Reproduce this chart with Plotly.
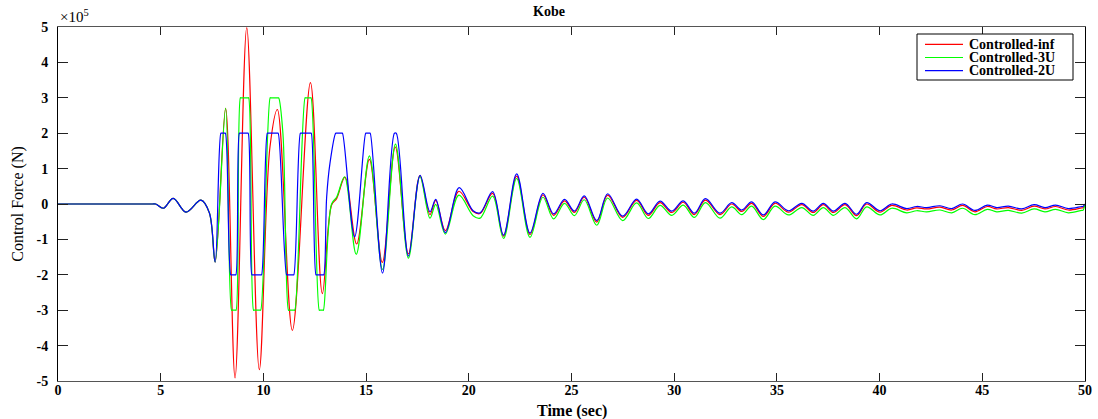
import plotly.graph_objects as go

# ---- data (values in units of 1e5 N) ----
t_inf = [0, 4.6, 4.75, 5.13, 5.61, 6.23, 6.96, 7.37, 7.65, 8.16, 8.62, 9.19, 9.80, 10.32, 10.68,
         11.41, 12.29, 12.87, 13.32, 13.57, 13.97, 14.54, 15.16, 15.79, 16.42, 17.06, 17.62,
         18.11, 18.39, 18.86, 19.52, 20.21, 20.55, 21.16, 21.69, 22.33, 22.98, 23.61, 24.13,
         24.66, 25.14, 25.62, 26.23, 26.76, 27.49, 28.17, 28.74, 29.31, 29.88, 30.44, 30.98,
         31.52, 32.23, 32.80, 33.29, 33.77, 34.34, 34.91, 35.56, 36.21, 36.77, 37.26, 37.75,
         38.32, 38.88, 39.37, 40.02, 40.59, 41.32, 41.80, 42.29, 42.94, 43.51, 44.04, 44.64,
         45.24, 45.70, 46.27, 46.92, 47.52, 48.05, 48.57, 49.19, 49.84, 49.90, 50.0]
f_inf = [0, 0, 0, -0.12, 0.16, -0.23, 0.11, -0.25, -1.64, 2.70, -4.91, 4.98, -4.68, 1.61, 2.67,
         -3.57, 3.43, -2.53, -0.03, 0.16, 0.76, -1.13, 1.26, -1.65, 1.61, -1.41, 0.80,
         -0.30, 0.10, -0.75, 0.36, -0.21, -0.27, 0.30, -0.91, 0.79, -0.86, 0.26, -0.32,
         0.09, -0.24, 0.19, -0.51, 0.25, -0.38, 0.10, -0.32, 0.04, -0.24, 0.05, -0.30,
         0.11, -0.30, 0.00, -0.21, 0.02, -0.35, 0.02, -0.23, -0.02, -0.24, -0.02, -0.24,
         -0.02, -0.33, 0.00, -0.23, -0.04, -0.17, -0.11, -0.14, -0.09, -0.17, -0.04, -0.22,
         -0.07, -0.14, -0.10, -0.18, -0.06, -0.14, -0.07, -0.17, -0.11, -0.11, 0.0]

t_3u = [0, 4.6, 4.75, 5.13, 5.61, 6.23, 6.96, 7.37, 7.65, 8.16,
        8.45, 8.48, 8.64, 8.67, 8.88, 8.91, 9.25, 9.28, 9.52, 9.55, 9.84, 9.87,
        10.33, 10.36, 10.71, 10.74, 10.95, 11.22, 11.25, 11.50, 11.53,
        12.03, 12.06, 12.29, 12.32, 12.72, 12.75, 12.89, 12.92,
        13.32, 13.57, 13.95,
        14.52, 15.16, 15.80, 16.43, 17.06, 17.62, 18.11, 18.39, 18.86, 19.52, 20.21, 20.55,
        21.16, 21.69, 22.33, 22.98, 23.61, 24.13, 24.66, 25.14, 25.62, 26.23, 26.76, 27.49,
        28.17, 28.74, 29.31, 29.88, 30.44, 30.98, 31.52, 32.23, 32.80, 33.29, 33.77, 34.34,
        34.91, 35.56, 36.21, 36.77, 37.26, 37.75, 38.32, 38.88, 39.37, 40.02, 40.59, 41.32,
        41.80, 42.29, 42.94, 43.51, 44.04, 44.64, 45.24, 45.70, 46.27, 46.92, 47.52, 48.05,
        48.57, 49.19, 49.84, 49.90, 50.0]
f_3u = [0, 0, 0, -0.12, 0.16, -0.23, 0.11, -0.25, -1.64, 2.70,
        -3.0, -3.0, -3.0, -3.0, 3.0, 3.0, 3.0, 3.0, -3.0, -3.0, -3.0, -3.0,
        3.0, 3.0, 3.0, 3.0, 2.0, -3.0, -3.0, -3.0, -3.0,
        3.0, 3.0, 3.0, 3.0, -3.0, -3.0, -3.0, -3.0,
        0.00, 0.20, 0.77,
        -1.42, 1.36, -1.85, 1.69, -1.53, 0.78, -0.40, -0.01, -0.85, 0.25, -0.33, -0.40,
        0.22, -0.97, 0.72, -0.94, 0.19, -0.42, 0.02, -0.33, 0.12, -0.60, 0.17, -0.47,
        0.03, -0.41, -0.04, -0.32, -0.03, -0.38, 0.04, -0.40, -0.08, -0.30, -0.06, -0.44,
        -0.06, -0.31, -0.10, -0.32, -0.10, -0.32, -0.10, -0.42, -0.08, -0.31, -0.12, -0.25,
        -0.19, -0.22, -0.17, -0.25, -0.12, -0.30, -0.15, -0.22, -0.18, -0.26, -0.14, -0.22,
        -0.15, -0.25, -0.18, -0.18, 0.0]

t_2u = [0, 4.6, 4.75, 5.13, 5.61, 6.23, 6.96, 7.37, 7.65,
        7.93, 7.96, 8.12, 8.15, 8.41, 8.44, 8.63, 8.66, 8.83, 8.86, 9.23, 9.26,
        9.44, 9.47, 9.88, 9.91, 10.19, 10.22, 10.69, 10.72, 11.13, 11.16, 11.45, 11.48,
        11.80, 11.83, 12.30, 12.33, 12.56, 12.59, 12.91, 12.94,
        13.08, 13.24, 13.52, 13.55, 13.82, 13.85, 14.44, 14.98, 15.01, 15.17, 15.20,
        15.80, 16.38, 16.47, 17.06, 17.63, 18.11, 18.39, 18.86,
        19.53, 20.21, 20.55, 21.16, 21.69, 22.33, 22.98, 23.61, 24.13, 24.66, 25.14, 25.62,
        26.23, 26.76, 27.49, 28.17, 28.74, 29.31, 29.88, 30.44, 30.98, 31.52, 32.23, 32.80,
        33.29, 33.77, 34.34, 34.91, 35.56, 36.21, 36.77, 37.26, 37.75, 38.32, 38.88, 39.37,
        40.02, 40.59, 41.32, 41.80, 42.29, 42.94, 43.51, 44.04, 44.64, 45.24, 45.70, 46.27,
        46.92, 47.52, 48.05, 48.57, 49.19, 49.84, 49.90, 50.0]
f_2u = [0, 0, 0, -0.12, 0.16, -0.23, 0.11, -0.25, -1.64,
        2.0, 2.0, 2.0, 2.0, -2.0, -2.0, -2.0, -2.0, 2.0, 2.0, 2.0, 2.0,
        -2.0, -2.0, -2.0, -2.0, 2.0, 2.0, 2.0, 2.0, -2.0, -2.0, -2.0, -2.0,
        2.0, 2.0, 2.0, 2.0, -2.0, -2.0, -2.0, -2.0,
        0.20, 1.15, 2.0, 2.0, 2.0, 2.0, -0.93, 2.0, 2.0, 2.0, 2.0,
        -1.95, 2.0, 2.0, -1.47, 0.81, -0.22, 0.13, -0.81,
        0.46, -0.19, -0.25, 0.35, -0.88, 0.85, -0.82, 0.30, -0.28, 0.13, -0.20, 0.23,
        -0.47, 0.29, -0.34, 0.14, -0.28, 0.08, -0.20, 0.09, -0.26, 0.15, -0.26, 0.04,
        -0.17, 0.06, -0.31, 0.06, -0.19, 0.02, -0.20, 0.02, -0.20, 0.02, -0.29, 0.04,
        -0.19, 0.00, -0.13, -0.07, -0.10, -0.05, -0.13, 0.00, -0.18, -0.03, -0.10, -0.06,
        -0.14, -0.02, -0.10, -0.03, -0.13, -0.07, -0.07, 0.0]

series_names = ["Controlled-inf", "Controlled-3U", "Controlled-2U"]
series_colors = ["#ff0000", "#00ff00", "#0000ff"]
series_t = [t_inf, t_3u, t_2u]
series_f = [f_inf, f_3u, f_2u]

x_ticks = [0, 5, 10, 15, 20, 25, 30, 35, 40, 45, 50]
y_ticks = [-5, -4, -3, -2, -1, 0, 1, 2, 3, 4, 5]

FONT = "Liberation Serif"
W, H = 1098, 419
ML, MR, MT, MB = 58, 13, 27, 38


def px(xp):
    return (xp - ML) / (W - ML - MR)


def py(yp):
    return (H - MB - yp) / (H - MT - MB)


fig = go.Figure()
for name, t, f, col in zip(series_names, series_t, series_f, series_colors):
    fig.add_trace(go.Scatter(x=t, y=f, mode="lines", name=name, showlegend=False,
                             line=dict(color=col, width=1.2, shape="spline", smoothing=1.0)))

fig.update_layout(
    width=W, height=H,
    margin=dict(l=ML, r=MR, t=MT, b=MB, autoexpand=False),
    paper_bgcolor="white", plot_bgcolor="white",
    title=dict(text="<b>Kobe</b>", x=0.5, xanchor="center", y=0.985, yanchor="top",
               font=dict(family=FONT, size=14, color="black")),
    font=dict(family=FONT, color="black"),
    showlegend=False,
    xaxis=dict(range=[0, 50], tickvals=x_ticks, ticktext=[f"<b>{v}</b>" for v in x_ticks],
               automargin=False,
               showgrid=False, zeroline=False, showline=True, linecolor="#555", linewidth=1,
               mirror="ticks", ticks="inside", ticklen=8, tickcolor="#222",
               ticklabelstandoff=-4,
               tickfont=dict(family=FONT, size=14, color="black")),
    yaxis=dict(range=[-5, 5], tickvals=y_ticks, ticktext=[f"<b>{v}</b>" for v in y_ticks],
               automargin=False,
               showgrid=False, zeroline=False, showline=True, linecolor="black", linewidth=1,
               mirror="ticks", ticks="inside", ticklen=10, tickcolor="#222",
               ticklabelstandoff=6,
               tickfont=dict(family=FONT, size=14, color="black"),
               title=dict(text="Control Force (N)", font=dict(family=FONT, size=16, color="black"),
                          standoff=8)),
)

# x-axis title
fig.add_annotation(text="<b>Time (sec)</b>", xref="paper", yref="paper", x=0.5, y=py(411),
                   xanchor="center", yanchor="middle", showarrow=False,
                   font=dict(family=FONT, size=16, color="black"))

# exponent label
fig.add_annotation(text="\u00d710<sup>5</sup>", xref="paper", yref="paper", x=0.0, y=1.0,
                   xanchor="left", yanchor="bottom", showarrow=False,
                   font=dict(family=FONT, size=15, color="black"))

# ---- legend box drawn like the MATLAB one ----
fig.add_shape(type="rect", xref="paper", yref="paper",
              x0=px(917), x1=px(1073), y0=py(80), y1=py(34),
              line=dict(color="black", width=1), fillcolor="white", layer="above")
for i, (name, col) in enumerate(zip(series_names, series_colors)):
    yy = py(44.3 + i * 13.2)
    fig.add_shape(type="line", xref="paper", yref="paper",
                  x0=px(925), x1=px(963), y0=yy, y1=yy,
                  line=dict(color=col, width=1.2), layer="above")
    fig.add_annotation(text=f"<b>{name}</b>", xref="paper", yref="paper",
                       x=px(967), y=yy, xanchor="left", yanchor="middle", showarrow=False,
                       font=dict(family=FONT, size=14, color="black"))

fig.write_html("out.html")
